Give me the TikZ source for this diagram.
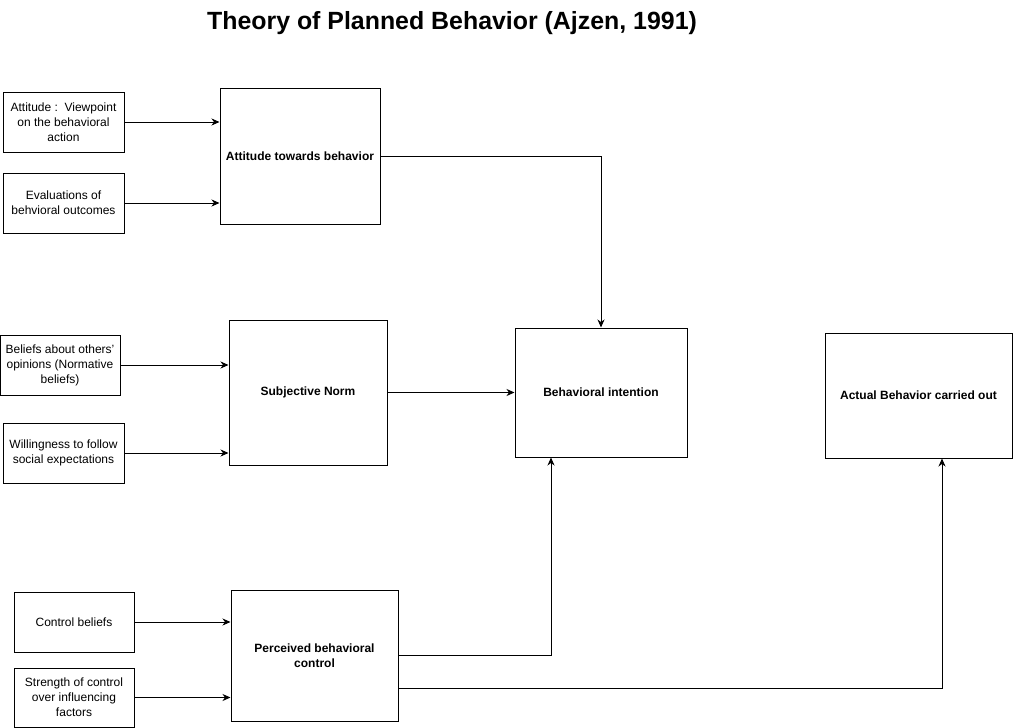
\documentclass[tikz,border=0pt]{standalone}
\usepackage{fontspec}
\setmainfont{Liberation Sans}
\usetikzlibrary{arrows.meta}
\begin{document}
\begin{tikzpicture}[x=1pt,y=-1pt,
  box/.style={draw=black, line width=1pt, rectangle, inner sep=2pt, align=center,
    font=\fontsize{12}{15}\selectfont},
  mainbox/.style={box, font=\bfseries\fontsize{12}{15}\selectfont},
  arr/.style={draw=black, line width=1pt, -{Stealth[length=8pt,width=7pt,inset=2.5pt]}}
]
\useasboundingbox (0,0) rectangle (1013,728);
\node[font=\bfseries\fontsize{24.9}{29}\selectfont] (title) at (452,23) {Theory of Planned Behavior (Ajzen, 1991)};

% inputs
\node[box, minimum width=121pt, minimum height=60pt] (a1) at (63.5,122) {Attitude :~~Viewpoint\\on the behavioral\\action};
\node[box, minimum width=121pt, minimum height=60pt] (a2) at (63.5,203) {Evaluations of\\behvioral outcomes};
\node[box, minimum width=120pt, minimum height=60pt] (s1) at (60,365) {Beliefs about others'\\opinions (Normative\\beliefs)};
\node[box, minimum width=121pt, minimum height=60pt] (s2) at (63.5,453) {Willingness to follow\\social expectations};
\node[box, minimum width=120pt, minimum height=60pt] (c1) at (74,622) {Control beliefs};
\node[box, minimum width=120pt, minimum height=59pt] (c2) at (74,697.5) {Strength of control\\over influencing\\factors};

% main boxes
\node[mainbox, minimum width=160pt, minimum height=136pt] (att) at (300,156) {Attitude towards behavior};
\node[mainbox, minimum width=158pt, minimum height=145pt] (sn) at (308,392.5) {Subjective Norm};
\node[mainbox, minimum width=167pt, minimum height=131pt] (pbc) at (314.5,655.5) {Perceived behavioral\\control};
\node[mainbox, minimum width=172pt, minimum height=129pt] (bi) at (601,392.5) {Behavioral intention};
\node[mainbox, minimum width=187pt, minimum height=125pt] (act) at (918.5,395.5) {Actual Behavior carried out};

% connectors
\draw[arr] (a1.east) -- (a1.east -| att.west);
\draw[arr] (a2.east) -- (a2.east -| att.west);
\draw[arr] (s1.east) -- (s1.east -| sn.west);
\draw[arr] (s2.east) -- (s2.east -| sn.west);
\draw[arr] (c1.east) -- (c1.east -| pbc.west);
\draw[arr] (c2.east) -- (c2.east -| pbc.west);
\draw[arr] (att.east) -| (bi.north);
\draw[arr] (sn.east) -- (sn.east -| bi.west);
\draw[arr] (pbc.east) -| ([xshift=-50pt]bi.south);
\draw[arr] ([yshift=-32.5pt]pbc.east) -| ([xshift=23.5pt]act.south);
\end{tikzpicture}
\end{document}
